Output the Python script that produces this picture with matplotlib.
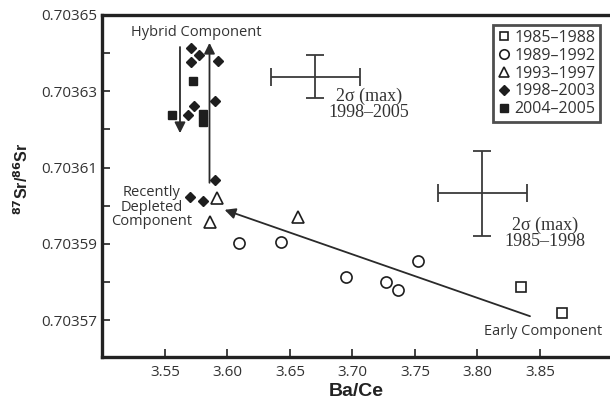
import numpy as np
import matplotlib
matplotlib.use('Agg')
import matplotlib.pyplot as plt

# data
sq_open_x = [3.8348, 3.8676]
sq_open_y = [0.7035787, 0.7035718]
circ_x = [3.6090, 3.6428, 3.6946, 3.7268, 3.7364, 3.7526]
circ_y = [0.7035901, 0.7035905, 0.7035812, 0.7035799, 0.7035778, 0.7035855]
tri_x = [3.5916, 3.5860, 3.6564]
tri_y = [0.7036019, 0.7035958, 0.7035970]
dia_x = [3.5708, 3.5774, 3.5706, 3.5926, 3.5732, 3.5682, 3.5900, 3.5900, 3.5700, 3.5802]
dia_y = [0.7036413, 0.7036395, 0.7036378, 0.7036379, 0.7036261, 0.7036238,
         0.7036275, 0.7036067, 0.7036022, 0.7036013]
sq_fill_x = [3.5727, 3.5554, 3.5802, 3.5802]
sq_fill_y = [0.7036328, 0.7036238, 0.7036240, 0.7036219]

# 2 sigma error crosses: (x, y, xerr, yerr)
err_x = [3.6703, 3.8038]
err_y = [0.7036338, 0.7036032]
err_dx = [0.0354, 0.0355]
err_dy = [0.56e-5, 1.12e-5]
err_labels = ['2σ (max)\n1998–2005', '2σ (max)\n1985–1998']
err_lab_x = [3.7130, 3.8540]
err_lab_y = [0.7036265, 0.7035928]

# arrows: (tail, head)
arrows = [((3.5620, 0.7036416), (3.5620, 0.7036190)),
          ((3.5856, 0.7036060), (3.5856, 0.7036427)),
          ((3.8420, 0.7035710), (3.5977, 0.7035989))]

ink = '#1e1e1e'
txt = '#333333'
sans = 'Open Sans'

fig = plt.figure(figsize=(6.10, 4.04), dpi=100)
ax = fig.add_axes([0.1672, 0.1163, 0.8328, 0.8466])

ax.plot(sq_open_x, sq_open_y, 's', ms=7, mfc='white', mec=ink, mew=1.2, label='1985–1988', ls='none')
ax.plot(circ_x, circ_y, 'o', ms=8, mfc='white', mec=ink, mew=1.2, label='1989–1992', ls='none')
ax.plot(tri_x, tri_y, '^', ms=8, mfc='white', mec=ink, mew=1.2, label='1993–1997', ls='none')
ax.plot(dia_x, dia_y, 'D', ms=5.5, color=ink, label='1998–2003', ls='none')
ax.plot(sq_fill_x, sq_fill_y, 's', ms=6, color=ink, label='2004–2005', ls='none')

for x, y, dx, dy in zip(err_x, err_y, err_dx, err_dy):
    ax.errorbar(x, y, xerr=dx, yerr=dy, fmt='none', ecolor='#3a3a3a',
                elinewidth=1.3, capsize=6.5, capthick=1.3)
for s, x, y in zip(err_labels, err_lab_x, err_lab_y):
    ax.text(x, y, s, family='Liberation Serif', fontsize=13, color=txt,
            ha='center', va='center', linespacing=0.95)

for tail, head in arrows:
    ax.annotate('', xy=head, xytext=tail,
                arrowprops=dict(arrowstyle='-|>', color='#2a2a2a', lw=1.3,
                                mutation_scale=16, shrinkA=0, shrinkB=0))

ax.text(3.5752, 0.7036453, 'Hybrid Component', family=sans, fontsize=10.5,
        color=txt, ha='center', va='center')
ax.text(3.5392, 0.7035996, 'Recently\nDepleted\nComponent', family=sans,
        fontsize=10.5, color=txt, ha='center', va='center', linespacing=0.95)
ax.text(3.8528, 0.7035671, 'Early Component', family=sans, fontsize=10.5,
        color=txt, ha='center', va='center')

ax.set_xlim(3.4996, 3.906)
ax.set_ylim(0.7035603, 0.70365)

xt = [3.55, 3.60, 3.65, 3.70, 3.75, 3.80, 3.85]
ax.set_xticks(xt)
ax.set_xticklabels(['%.2f' % v for v in xt], family=sans, fontsize=11, color=txt)
yt = [0.70357, 0.70359, 0.70361, 0.70363, 0.70365]
ax.set_yticks(yt)
ax.set_yticklabels(['%.5f' % v for v in yt], family=sans, fontsize=11, color=txt)
ax.set_yticks([0.70358, 0.70360, 0.70362, 0.70364], minor=True)
ax.tick_params(axis='both', which='both', direction='in', length=6, width=1.3, color='#333333')
ax.tick_params(axis='x', pad=6)

for side in ['left', 'bottom', 'top']:
    ax.spines[side].set_linewidth(2.4)
    ax.spines[side].set_color('#222222')
ax.spines['right'].set_visible(False)

ax.set_xlabel('Ba/Ce', family='Liberation Sans', fontweight='bold', fontsize=14,
              color='#222222', labelpad=2)
ax.set_ylabel(r'$^{\mathbf{87}}$Sr/$^{\mathbf{86}}$Sr', family='Liberation Sans',
              fontweight='bold', fontsize=11.5, color='#222222')
ax.yaxis.set_label_coords(-0.14, 0.52)

leg = ax.legend(loc='upper right', bbox_to_anchor=(0.980, 0.971), prop={'family': sans, 'size': 11.5},
                frameon=True, fancybox=False, handlelength=0.7, handletextpad=0.3,
                labelspacing=0.12, borderpad=0.3, borderaxespad=0, markerscale=0.85)
leg.get_frame().set_edgecolor('#222222')
leg.get_frame().set_linewidth(2)
for t in leg.get_texts():
    t.set_color(txt)

fig.savefig('out.png', dpi=100)
